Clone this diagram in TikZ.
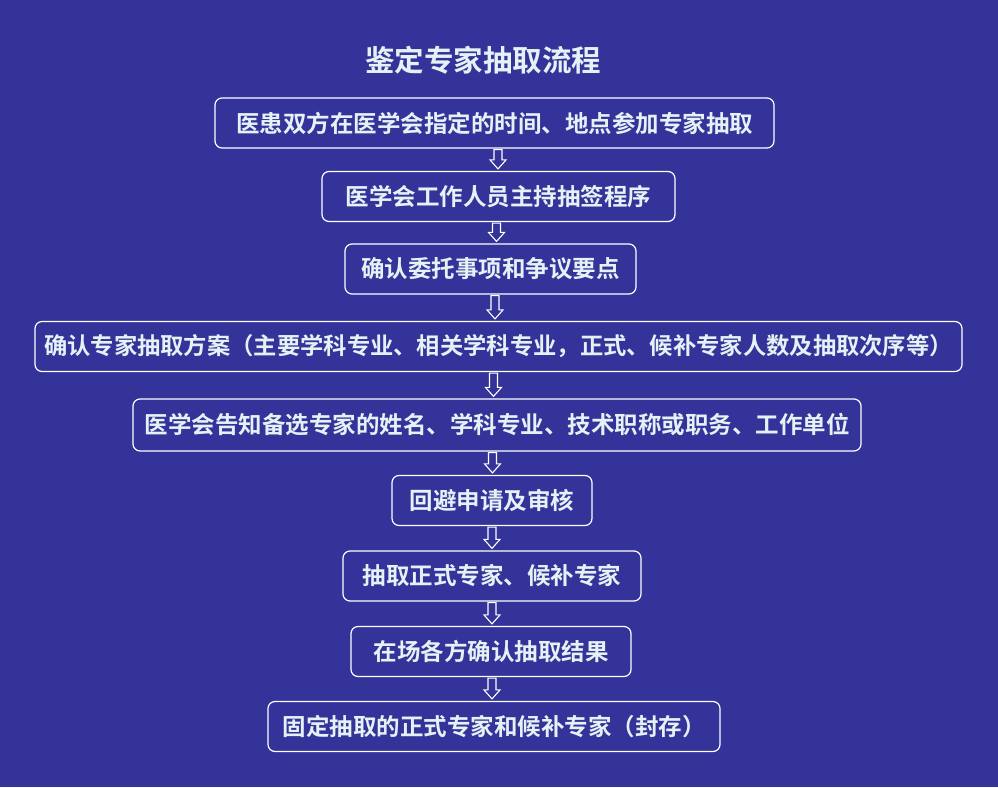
\documentclass[tikz,border=0pt]{standalone}
\usepackage{fontspec}
\newfontfamily\cjk{Noto Sans CJK SC Bold}
\usetikzlibrary{calc}
\definecolor{navy}{HTML}{333399}
\definecolor{ice}{HTML}{E4F1F5}
\tikzset{
  stepbox/.style={rectangle,rounded corners=7pt,draw=white,line width=1.2pt,text=ice,font=\cjk\fontsize{23.5}{26}\selectfont,minimum height=50pt,inner sep=0pt},
  heading/.style={text=ice,font=\cjk\fontsize{29.5}{32}\selectfont},
  hollow/.style={draw=white,line width=1.1pt,fill=navy,
    to path={let \p1=(\tikztostart),\p2=(\tikztotarget) in
      ({\x1-4pt},{\y1-1pt}) -- ({\x1-4pt},{\y2+11pt}) -- ({\x1-8pt},{\y2+11pt}) -- ({\x1},{\y2+2pt})
      -- ({\x1+8pt},{\y2+11pt}) -- ({\x1+4pt},{\y2+11pt}) -- ({\x1+4pt},{\y1-1pt}) -- cycle}}
}

\begin{document}
\begin{tikzpicture}[x=1pt,y=-1pt]
  \fill[navy] (0,0) rectangle (998,787);
  \node[heading] (title) at (483,60) {鉴定专家抽取流程};

  \node[stepbox,minimum width=559pt] (s1) at (494.5,123) {医患双方在医学会指定的时间、地点参加专家抽取};
  \node[stepbox,minimum width=353pt] (s2) at (498.5,196.5) {医学会工作人员主持抽签程序};
  \node[stepbox,minimum width=291pt] (s3) at (490.5,269) {确认委托事项和争议要点};
  \node[stepbox,minimum width=927pt,font=\cjk\fontsize{23.3}{26}\selectfont] (s4) at (498.5,346.5) {确认专家抽取方案（主要学科专业、相关学科专业，正式、候补专家人数及抽取次序等）};
  \node[stepbox,minimum width=728pt,minimum height=52pt] (s5) at (497,425) {医学会告知备选专家的姓名、学科专业、技术职称或职务、工作单位};
  \node[stepbox,minimum width=200pt] (s6) at (492,500.5) {回避申请及审核};
  \node[stepbox,minimum width=298pt] (s7) at (492,576) {抽取正式专家、候补专家};
  \node[stepbox,minimum width=280pt] (s8) at (491,651.5) {在场各方确认抽取结果};
  \node[stepbox,minimum width=452pt] (s9) at (494,726.5) {固定抽取的正式专家和候补专家（封存）};

  % hollow arrows between the steps
  \draw[hollow] (s1.south -| 498,0) to (s2.north -| 498,0);
  \draw[hollow] (s2.south -| 496.5,0) to (s3.north -| 496.5,0);
  \draw[hollow] (s3.south -| 495,0) to (s4.north -| 495,0);
  \draw[hollow] (s4.south -| 493.5,0) to (s5.north -| 493.5,0);
  \draw[hollow] (s5.south -| 492.5,0) to (s6.north -| 492.5,0);
  \draw[hollow] (s6.south -| 492,0) to (s7.north -| 492,0);
  \draw[hollow] (s7.south -| 492,0) to (s8.north -| 492,0);
  \draw[hollow] (s8.south -| 492,0) to (s9.north -| 492,0);
\end{tikzpicture}
\end{document}
